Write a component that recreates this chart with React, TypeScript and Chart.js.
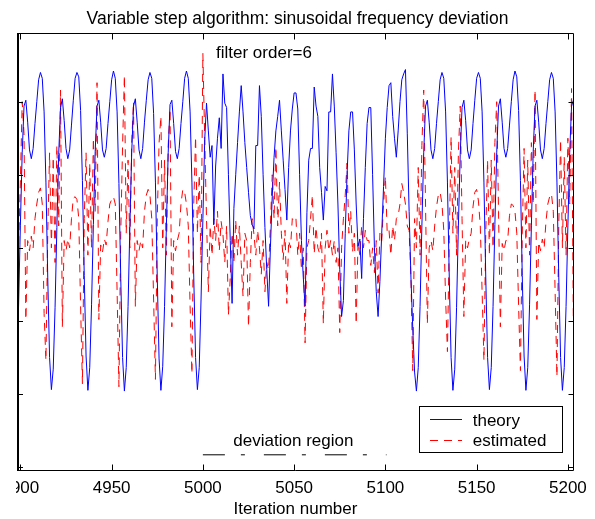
import React, { useEffect, useRef } from "react";
import { Chart, registerables } from "chart.js";

Chart.register(...registerables);

// ---------- data ----------
const firstIteration = 4896;

const theory = [
  -0.75,
  -0.975, -0.82, -0.4, 0.15, 0.65, 0.97, 1.01, 0.86, 0.67, 0.61, 0.68, 0.85, 1.0, 1.15, 1.2, 1.16, 0.93, 0.45, -0.2, -0.75,
  -0.97, -0.83, -0.41, 0.14, 0.64, 0.96, 1.02, 0.87, 0.68, 0.61, 0.67, 0.84, 1.01, 1.16, 1.2, 1.17, 0.94, 0.46, -0.19, -0.74,
  -0.975, -0.82, -0.39, 0.16, 0.66, 0.97, 1.01, 0.86, 0.67, 0.62, 0.68, 0.85, 1.0, 1.15, 1.21, 1.16, 0.93, 0.44, -0.21, -0.75,
  -0.98, -0.82, -0.4, 0.15, 0.65, 0.97, 1.02, 0.86, 0.67, 0.61, 0.68, 0.86, 1.01, 1.15, 1.2, 1.16, 0.92, 0.45, -0.2, -0.76,
  -0.975, -0.81, -0.4, 0.15, 0.65, 0.98, 1.01, 0.85, 0.66, 0.61, 0.68, 0.85, 1.0, 1.16, 1.21, 1.16, 0.93, 0.45, -0.2, -0.75,
  -0.97, -0.82, -0.35, 0.2, 0.74, 0.99, 0.8, 0.62, 0.7, 0.16,
  0.56, 0.75, 0.89, 0.68, 1.19, 0.99, 0.96, 0.5, 0.05, -0.38,
  0.27, 0.5, 0.72, 0.93, 1.11, 0.93, 0.72, 0.55, 0.38, 0.22,
  0.16, 0.13, 0.7, 0.7, 1.11, 0.9, 0.5, 0.14, -0.15, -0.4,
  0.0, 0.35, 0.62, 0.8, 0.9, 1.01, 0.8, 0.6, 0.4, 0.19,
  0.55, 0.8, 0.95, 1.06, 1.06, 0.95, 0.5, 0.05, -0.2, -0.4,
  0.24, 0.6, 0.68, 0.68, 1.1, 0.97, 0.9, 0.55, 0.38, 0.19,
  0.42, 0.39, 0.93, 0.93, 1.19, 0.97, 0.65, 0.3, -0.15, -0.47,
  -0.36, 0.1, 0.5, 0.8, 0.93, 0.93, 0.67, 0.3, 0.01, 0.06,
  -0.21, 0.2, 0.55, 0.85, 0.96, 0.96, 0.5, 0.0, -0.3, -0.47,
  -0.23, 0.1, 0.42, 0.75, 0.96, 1.11, 1.13, 0.9, 0.75, 0.62,
  0.8, 1.0, 1.15, 1.19, 1.22, 0.78, 0.25, -0.2, -0.55, -0.85,
  -0.98, -0.82, -0.4, 0.15, 0.65, 0.97, 1.01, 0.86, 0.67, 0.61, 0.68, 0.85, 1.0, 1.15, 1.2, 1.16, 0.93, 0.45, -0.2, -0.75,
  -0.975, -0.83, -0.41, 0.15, 0.64, 0.96, 1.01, 0.87, 0.67, 0.61, 0.67, 0.85, 1.01, 1.16, 1.2, 1.16, 0.93, 0.45, -0.2, -0.75,
  -0.97, -0.82, -0.4, 0.16, 0.65, 0.97, 1.02, 0.86, 0.68, 0.62, 0.68, 0.84, 1.0, 1.15, 1.21, 1.17, 0.94, 0.46, -0.19, -0.74,
  -0.975, -0.82, -0.39, 0.15, 0.66, 0.97, 1.01, 0.86, 0.67, 0.61, 0.68, 0.85, 1.0, 1.15, 1.2, 1.16, 0.93, 0.45, -0.2, -0.75,
  -0.975, -0.82, -0.4, 0.15, 0.65, 0.97, 1.01, 0.86,
];

const estimated = [
  0.68,
  -0.1, 0.55, 0.0, 0.45, 1.0, 0.78, -0.49, 0.05, -0.02, 0.08, 0.0, 0.2, 0.3, 0.38, 0.41, 0.3, -0.45, -0.77, 0.1, 0.65,
  0.0, 0.62, -0.1, 0.7, 0.15, 1.08, -0.54, 0.05, -0.02, 0.06, 0.0, 0.2, 0.34, 0.35, 0.33, 0.2, -0.4, -0.93, 0.2, 0.65,
  -0.05, 0.58, 0.0, 0.75, 0.25, 1.13, -0.49, 0.02, -0.03, 0.06, 0.02, 0.18, 0.3, 0.33, 0.35, 0.3, -0.3, -0.95, 0.1, 0.7,
  1.18, 0.1, 0.6, 0.0, 0.72, 1.0, -0.4, 0.05, -0.02, 0.05, 0.0, 0.25, 0.36, 0.4, 0.36, 0.2, -0.35, -0.9, 0.2, 0.72,
  0.9, 0.0, 0.6, -0.05, 0.7, 0.95, -0.54, 0.05, -0.02, 0.05, 0.1, 0.3, 0.4, 0.38, 0.3, 0.15, -0.4, -0.86, 0.3, 0.76,
  0.1, 0.5, -0.1, 1.33, 0.75, 0.2, -0.3, 0.15, -0.05, 0.2,
  0.05, 0.25, -0.02, 0.18, 0.09, -0.1, 0.15, -0.46, -0.2, 0.1,
  -0.1, 0.19, -0.05, 0.15, -0.1, -0.33, 0.1, 0.05, -0.54, -0.1,
  0.2, 0.09, -0.05, 0.12, 0.0, -0.18, 0.05, -0.3, -0.1, -0.15,
  0.15, 0.5, 0.2, 0.69, 0.15, 0.45, 0.1, -0.08, 0.12, -0.38,
  0.05, 0.0, 0.2, 0.18, 0.2, -0.05, 0.1, -0.15, 0.0, -0.65,
  0.0, 0.05, 0.2, 0.36, -0.04, 0.14, 0.0, -0.04, 0.1, -0.52,
  0.0, 0.12, -0.02, 0.05, -0.05, 0.05, -0.1, 0.0, -0.58, 0.0,
  0.2, 0.36, 0.58, 0.1, 0.25, -0.03, 0.1, -0.52, 0.04, -0.05,
  0.15, 0.0, 0.12, 0.05, 0.05, -0.12, 0.0, -0.17, 0.05, -0.31,
  0.1, 0.05, 0.3, 0.49, 0.1, 0.12, -0.05, 0.15, 0.05, 0.2,
  0.22, 0.3, 0.44, 0.38, 0.3, 0.15, 0.12, -0.2, -0.84, 0.2,
  0.0, 0.55, -0.05, 0.7, 1.08, 0.3, -0.52, 0.0, 0.05, -0.02, 0.15, 0.28, 0.36, 0.38, 0.3, 0.12, -0.35, -0.71, 0.05, 0.76,
  0.1, 0.55, -0.05, 0.65, 0.97, 0.2, -0.47, 0.05, 0.0, 0.06, 0.1, 0.28, 0.38, 0.4, 0.32, 0.15, -0.3, -0.77, 0.1, 0.6,
  -0.05, 0.6, 0.0, 0.72, 1.0, 0.25, -0.54, 0.03, -0.02, 0.05, 0.05, 0.22, 0.3, 0.29, 0.25, 0.1, -0.4, -0.84, 0.1, 0.68,
  0.0, 0.6, -0.05, 0.72, 0.3, 1.08, -0.49, 0.04, -0.02, 0.06, 0.0, 0.18, 0.3, 0.35, 0.37, 0.25, -0.3, -0.88, 0.15, 0.74,
  0.0, 0.62, -0.05, 0.75, 0.3, 1.09, -0.5, 0.05,
];

const xRange = [4898.7, 5202.8];
const yRange = [-1.52, 1.47];
const xTickValues = [4900, 4950, 5000, 5050, 5100, 5150, 5200];
const xTickLabels = ["4900", "4950", "5000", "5050", "5100", "5150", "5200"];
const yTickValues = [-1.5, -1, -0.5, 0, 0.5, 1];

const deviationX = [5000, 5100.6];
const deviationY = [-1.416, -1.416];

const seriesLabels = ["theory", "estimated"];
const titleText = "Variable step algorithm: sinusoidal frequency deviation";
const xAxisTitle = "Iteration number";
const noteTexts = ["filter order=6", "deviation region"];
const noteX = [5007.2, 5016.7];
const noteY = [1.302, -1.355];

// ---------- styles ----------
const FONT = '17px "Liberation Sans", Arial, Helvetica, sans-serif';
const TITLE_FONT = '17.5px "Liberation Sans", Arial, Helvetica, sans-serif';
const BLUE = "#0000ff";
const RED = "#ff0000";
const RED_DASH = [8, 6];

const decorPlugin = {
  id: "matlabDecor",
  afterDraw(chart: any) {
    const { ctx, chartArea: a, scales } = chart;
    const xs = scales.x;
    const ys = scales.y;
    const W = chart.width;
    const H = chart.height;
    ctx.save();

    // axes box
    ctx.strokeStyle = "#000";
    ctx.setLineDash([]);
    ctx.lineWidth = 1;
    const top = a.top + 0.5;
    const bottom = a.bottom + 0.5;
    const right = a.right + 0.5;
    const left = a.left;
    ctx.beginPath();
    ctx.moveTo(left, top);
    ctx.lineTo(right, top);
    ctx.lineTo(right, bottom);
    ctx.lineTo(left, bottom);
    ctx.stroke();
    ctx.lineWidth = 2;
    ctx.beginPath();
    ctx.moveTo(left, top - 0.5);
    ctx.lineTo(left, bottom + 0.5);
    ctx.stroke();

    // ticks (inward, all four sides)
    ctx.lineWidth = 1;
    ctx.beginPath();
    xTickValues.forEach((v) => {
      const px = Math.round(xs.getPixelForValue(v)) + 0.5;
      ctx.moveTo(px, bottom);
      ctx.lineTo(px, bottom - 6);
      ctx.moveTo(px, top);
      ctx.lineTo(px, top + 6);
    });
    yTickValues.forEach((v) => {
      const py = Math.round(ys.getPixelForValue(v)) + 0.5;
      ctx.moveTo(left, py);
      ctx.lineTo(left + 5, py);
      ctx.moveTo(right, py);
      ctx.lineTo(right - 5, py);
    });
    ctx.stroke();

    // x tick labels (the figure is cropped just left of the axis)
    ctx.fillStyle = "#000";
    ctx.font = FONT;
    ctx.textBaseline = "alphabetic";
    ctx.textAlign = "center";
    ctx.save();
    ctx.beginPath();
    ctx.rect(16, 0, W - 16, H);
    ctx.clip();
    xTickValues.forEach((v, i) => {
      ctx.fillText(xTickLabels[i], xs.getPixelForValue(v), 492.5);
    });
    ctx.restore();

    // axis title & chart title
    ctx.textAlign = "center";
    ctx.fillText(xAxisTitle, (a.left + a.right) / 2, 514);
    ctx.font = TITLE_FONT;
    ctx.fillText(titleText, 297.5, 24);
    ctx.font = FONT;

    // annotations
    ctx.textAlign = "left";
    noteTexts.forEach((t, i) => {
      ctx.fillText(t, xs.getPixelForValue(noteX[i]), ys.getPixelForValue(noteY[i]));
    });

    // legend
    const lx = 419.5, ly = 406.5, lw = 143, lh = 46;
    ctx.fillStyle = "#fff";
    ctx.fillRect(lx, ly, lw, lh);
    ctx.strokeStyle = "#000";
    ctx.lineWidth = 1;
    ctx.strokeRect(lx, ly, lw, lh);
    const rows = [419.5, 440.5];
    const colors = [BLUE, RED];
    const dashes = [[], RED_DASH];
    rows.forEach((ry, i) => {
      ctx.strokeStyle = colors[i];
      ctx.setLineDash(dashes[i]);
      ctx.beginPath();
      ctx.moveTo(430, ry);
      ctx.lineTo(462, ry);
      ctx.stroke();
    });
    ctx.setLineDash([]);
    ctx.fillStyle = "#000";
    ctx.textAlign = "left";
    ctx.fillText(seriesLabels[0], 472.7, 426);
    ctx.fillText(seriesLabels[1], 472.7, 445.5);

    ctx.restore();
  },
};

export default function App() {
  const canvasRef = useRef<HTMLCanvasElement | null>(null);

  useEffect(() => {
    const canvas = canvasRef.current;
    if (!canvas) return;
    const toPoints = (arr: number[]) => arr.map((v, i) => ({ x: firstIteration + i, y: v }));
    const chart = new Chart(canvas, {
      type: "line",
      data: {
        datasets: [
          {
            label: seriesLabels[0],
            data: toPoints(theory),
            borderColor: BLUE,
            borderWidth: 1,
            pointRadius: 0,
            tension: 0,
            fill: false,
          },
          {
            label: seriesLabels[1],
            data: toPoints(estimated),
            borderColor: RED,
            borderWidth: 1,
            borderDash: RED_DASH,
            pointRadius: 0,
            tension: 0,
            fill: false,
          },
          {
            label: "deviation region",
            data: deviationX.map((x, i) => ({ x, y: deviationY[i] })),
            borderColor: "#000",
            borderWidth: 1,
            borderDash: [22, 16, 4, 19],
            pointRadius: 0,
            fill: false,
          },
        ],
      },
      options: {
        animation: false,
        responsive: false,
        events: [],
        layout: { padding: { left: 18, right: 22, top: 33, bottom: 49 } },
        scales: {
          x: { type: "linear", min: xRange[0], max: xRange[1], display: false },
          y: { type: "linear", min: yRange[0], max: yRange[1], display: false },
        },
        plugins: {
          legend: { display: false },
          title: { display: false },
          tooltip: { enabled: false },
        },
      },
      plugins: [decorPlugin],
    });
    return () => chart.destroy();
  }, []);

  return (
    <div style={{ position: "absolute", left: 0, top: 0, width: 595, height: 519, background: "#fff" }}>
      <canvas ref={canvasRef} width={595} height={519} style={{ display: "block" }} />
    </div>
  );
}
